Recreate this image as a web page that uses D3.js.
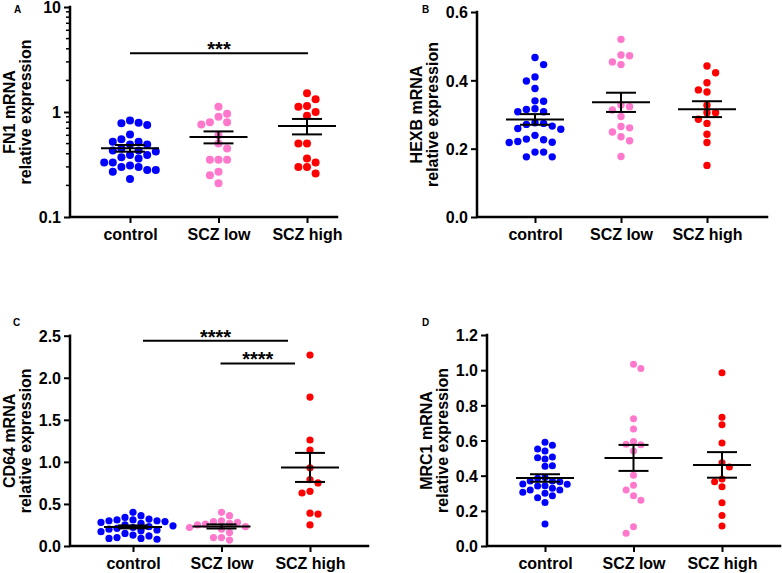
<!DOCTYPE html>
<html><head><meta charset="utf-8">
<script src="https://cdn.jsdelivr.net/npm/d3@7"></script>
<style>
body{margin:0;background:#fff}
svg text{font-family:"Liberation Sans",Arial,Helvetica,sans-serif;font-weight:bold;fill:#000}
</style>
</head><body>
<svg id="c" width="782" height="573" xmlns="http://www.w3.org/2000/svg"></svg>
<script>
// ---------- data ----------
const categories = ["control", "SCZ low", "SCZ high"];
const groupColors = ["#0000ff", "#ff78cc", "#ff0000"];

const fn1Control = [0.83,0.79,0.78,0.75,0.61,0.55,0.52,0.52,0.49,0.49,0.45,0.43,0.43,0.42,0.39,0.39,0.37,0.36,0.33,0.33,0.31,0.30,0.30,0.28,0.28,0.27,0.23];
const fn1Low = [1.12,0.96,0.90,0.80,0.80,0.76,0.60,0.50,0.45,0.35,0.35,0.35,0.27,0.25,0.21];
const fn1High = [1.51,1.32,1.14,1.12,1.00,0.92,0.50,0.50,0.36,0.33,0.30,0.30,0.26];

const hexbControl = [0.467,0.446,0.410,0.398,0.376,0.340,0.339,0.317,0.315,0.308,0.308,0.276,0.274,0.271,0.266,0.259,0.257,0.239,0.228,0.226,0.221,0.219,0.218,0.190,0.190,0.176,0.176];
const hexbLow = [0.520,0.474,0.472,0.454,0.446,0.328,0.323,0.313,0.294,0.265,0.261,0.249,0.235,0.223,0.177];
const hexbHigh = [0.442,0.422,0.393,0.372,0.366,0.327,0.305,0.305,0.286,0.274,0.242,0.218,0.151];

const cd64Control = [0.40,0.36,0.34,0.32,0.31,0.31,0.30,0.30,0.29,0.28,0.27,0.25,0.24,0.23,0.22,0.21,0.20,0.19,0.18,0.17,0.15,0.13,0.12,0.10,0.09,0.09,0.08];
const cd64Low = [0.40,0.36,0.30,0.29,0.28,0.27,0.26,0.25,0.23,0.22,0.20,0.16,0.10,0.10,0.07];
const cd64High = [2.27,1.77,1.26,1.14,0.93,0.79,0.75,0.65,0.63,0.39,0.38,0.25];

const mrc1Control = [0.590,0.573,0.552,0.540,0.506,0.502,0.495,0.457,0.453,0.390,0.385,0.370,0.370,0.366,0.353,0.351,0.343,0.341,0.328,0.319,0.319,0.305,0.300,0.286,0.275,0.248,0.125];
const mrc1Low = [1.033,1.009,0.724,0.666,0.595,0.578,0.576,0.540,0.402,0.345,0.319,0.286,0.260,0.110,0.072];
const mrc1High = [0.986,0.732,0.690,0.586,0.474,0.449,0.381,0.366,0.337,0.246,0.173,0.114];

const fn1Ticks = [0.1, 1, 10];
const fn1TickLabels = ["0.1", "1", "10"];
const hexbTicks = [0, 0.2, 0.4, 0.6];
const hexbTickLabels = ["0.0", "0.2", "0.4", "0.6"];
const cd64Ticks = [0, 0.5, 1.0, 1.5, 2.0, 2.5];
const cd64TickLabels = ["0.0", "0.5", "1.0", "1.5", "2.0", "2.5"];
const mrc1Ticks = [0, 0.2, 0.4, 0.6, 0.8, 1.0, 1.2];
const mrc1TickLabels = ["0.0", "0.2", "0.4", "0.6", "0.8", "1.0", "1.2"];

const fn1Sig = [{from: "control", to: "SCZ high", level: 3.62, label: "***"}];
const cd64Sig = [
  {from: "control", to: "SCZ high", level: 2.44, label: "****"},
  {from: "SCZ low", to: "SCZ high", level: 2.17, label: "****"}
];

// ---------- layout ----------
const panels = [
  {letter: "A", lx: 14, ly: 13, title: "FN1 mRNA", log: true, domain: [0.1, 10],
   ticks: fn1Ticks, labels: fn1TickLabels, groups: [fn1Control, fn1Low, fn1High], sig: fn1Sig,
   x0: 70, xEnd: 337, yTop: 7, yBot: 217, xr: [130, 307], r: 4, step: 8.6,
   sigOff: [[0, 1]]},
  {letter: "B", lx: 422, ly: 13, title: "HEXB mRNA", log: false, domain: [0, 0.6],
   ticks: hexbTicks, labels: hexbTickLabels, groups: [hexbControl, hexbLow, hexbHigh], sig: [],
   x0: 477, xEnd: 767, yTop: 12, yBot: 217, xr: [535, 707], r: 3.7, step: 8.6},
  {letter: "C", lx: 13, ly: 326, title: "CD64 mRNA", log: false, domain: [0, 2.5],
   ticks: cd64Ticks, labels: cd64TickLabels, groups: [cd64Control, cd64Low, cd64High], sig: cd64Sig,
   x0: 70, xEnd: 368, yTop: 335.7, yBot: 546, xr: [133, 310], r: 3.6, step: 8,
   sigOff: [[10, -22], [-1, -15]]},
  {letter: "D", lx: 422, ly: 326, title: "MRC1 mRNA", log: false, domain: [0, 1.2],
   ticks: mrc1Ticks, labels: mrc1TickLabels, groups: [mrc1Control, mrc1Low, mrc1High], sig: [],
   x0: 487, xEnd: 780, yTop: 335, yBot: 546, xr: [545, 722], r: 3.5, step: 7.4}
];

const svg = d3.select("#c");

function swarm(values, cx, y, r, step) {
  const dia = 2 * r;
  const pts = values.map(v => ({v, y: y(v)})).sort((a, b) => a.y - b.y);
  const placed = [];
  for (const p of pts) {
    let chosen = null;
    for (let m = 0; m < 30 && chosen === null; m++) {
      const cands = m === 0 ? [0] : [m, -m];
      const left = placed.filter(q => q.k < 0).length, right = placed.filter(q => q.k > 0).length;
      if (m > 0 && left < right) cands.reverse();
      for (const k of cands) {
        const ok = placed.every(q => q.k !== k || Math.abs(q.y - p.y) >= dia * 0.98);
        if (ok) { chosen = k; break; }
      }
    }
    p.k = chosen;
    p.x = cx + chosen * step;
    placed.push(p);
  }
  return placed;
}

panels.forEach(cfg => {
  const g = svg.append("g");
  const y = (cfg.log ? d3.scaleLog() : d3.scaleLinear()).domain(cfg.domain).range([cfg.yBot, cfg.yTop]);
  const x = d3.scalePoint().domain(categories).range(cfg.xr);

  g.append("text").attr("x", cfg.lx).attr("y", cfg.ly).attr("font-size", 10)
    .attr("font-weight", "bold").text(cfg.letter);

  const midY = (cfg.yTop + cfg.yBot) / 2;
  g.append("text").attr("transform", `translate(${cfg.x0 - 55},${midY}) rotate(-90)`)
    .attr("text-anchor", "middle").attr("font-size", 16).attr("font-weight", "bold").text(cfg.title);
  g.append("text").attr("transform", `translate(${cfg.x0 - 39},${midY}) rotate(-90)`)
    .attr("text-anchor", "middle").attr("font-size", 16).attr("font-weight", "bold").text("relative expression");

  const ya = g.append("g").attr("transform", `translate(${cfg.x0},0)`)
    .call(d3.axisLeft(y).tickValues(cfg.ticks).tickFormat((d, i) => cfg.labels[i]).tickSize(6).tickSizeOuter(0).tickPadding(3));
  ya.attr("font-size", null).attr("font-family", null);
  ya.selectAll("text").attr("font-size", 16).attr("font-weight", "bold").attr("dy", "0.36em");
  ya.selectAll(".tick line").attr("stroke-width", 2);
  ya.select(".domain").remove();

  if (cfg.log) {
    const minor = [];
    for (let dec = 0.1; dec < 10; dec *= 10) for (let m = 2; m <= 9; m++) minor.push(dec * m);
    g.append("g").selectAll("line").data(minor).join("line")
      .attr("x1", cfg.x0 - 4).attr("x2", cfg.x0).attr("y1", d => y(d)).attr("y2", d => y(d))
      .attr("stroke", "#000").attr("stroke-width", 1.5);
  }

  const xa = g.append("g").attr("transform", `translate(0,${cfg.yBot})`)
    .call(d3.axisBottom(x).tickSize(6).tickSizeOuter(0).tickPadding(6));
  xa.attr("font-size", null).attr("font-family", null);
  xa.select(".domain").remove();
  xa.selectAll(".tick line").attr("stroke-width", 2);
  xa.selectAll("text").attr("font-size", 16).attr("font-weight", "bold").attr("dy", "0.71em");

  g.append("path")
    .attr("d", `M${cfg.x0},${cfg.yTop}V${cfg.yBot}H${cfg.xEnd}`)
    .attr("fill", "none").attr("stroke", "#000").attr("stroke-width", 2.5).attr("stroke-linecap", "square");

  cfg.groups.forEach((vals, i) => {
    const cx = x(categories[i]);
    const pts = swarm(vals, cx, y, cfg.r, cfg.step);
    g.append("g").selectAll("circle").data(pts).join("circle")
      .attr("cx", d => d.x).attr("cy", d => d.y).attr("r", cfg.r).attr("fill", groupColors[i]);
    const mean = d3.mean(vals);
    const sem = d3.deviation(vals) / Math.sqrt(vals.length);
    const lg = g.append("g").attr("stroke", "#000").attr("stroke-width", 2);
    lg.append("line").attr("x1", cx - 29).attr("x2", cx + 29).attr("y1", y(mean)).attr("y2", y(mean));
    lg.append("line").attr("x1", cx - 15).attr("x2", cx + 15).attr("y1", y(mean + sem)).attr("y2", y(mean + sem));
    lg.append("line").attr("x1", cx - 15).attr("x2", cx + 15).attr("y1", y(mean - sem)).attr("y2", y(mean - sem));
    lg.append("line").attr("x1", cx).attr("x2", cx).attr("y1", y(mean + sem)).attr("y2", y(mean - sem));
  });

  cfg.sig.forEach((s, j) => {
    const off = cfg.sigOff[j];
    const xa1 = x(s.from) + off[0], xb1 = x(s.to) + off[1];
    const yy = y(s.level);
    g.append("line").attr("x1", xa1).attr("x2", xb1).attr("y1", yy).attr("y2", yy)
      .attr("stroke", "#000").attr("stroke-width", 2);
    g.append("text").attr("x", (xa1 + xb1) / 2).attr("y", yy + 3).attr("text-anchor", "middle")
      .attr("font-size", 20).attr("font-weight", "bold").text(s.label);
  });
});
</script>
</body></html>
